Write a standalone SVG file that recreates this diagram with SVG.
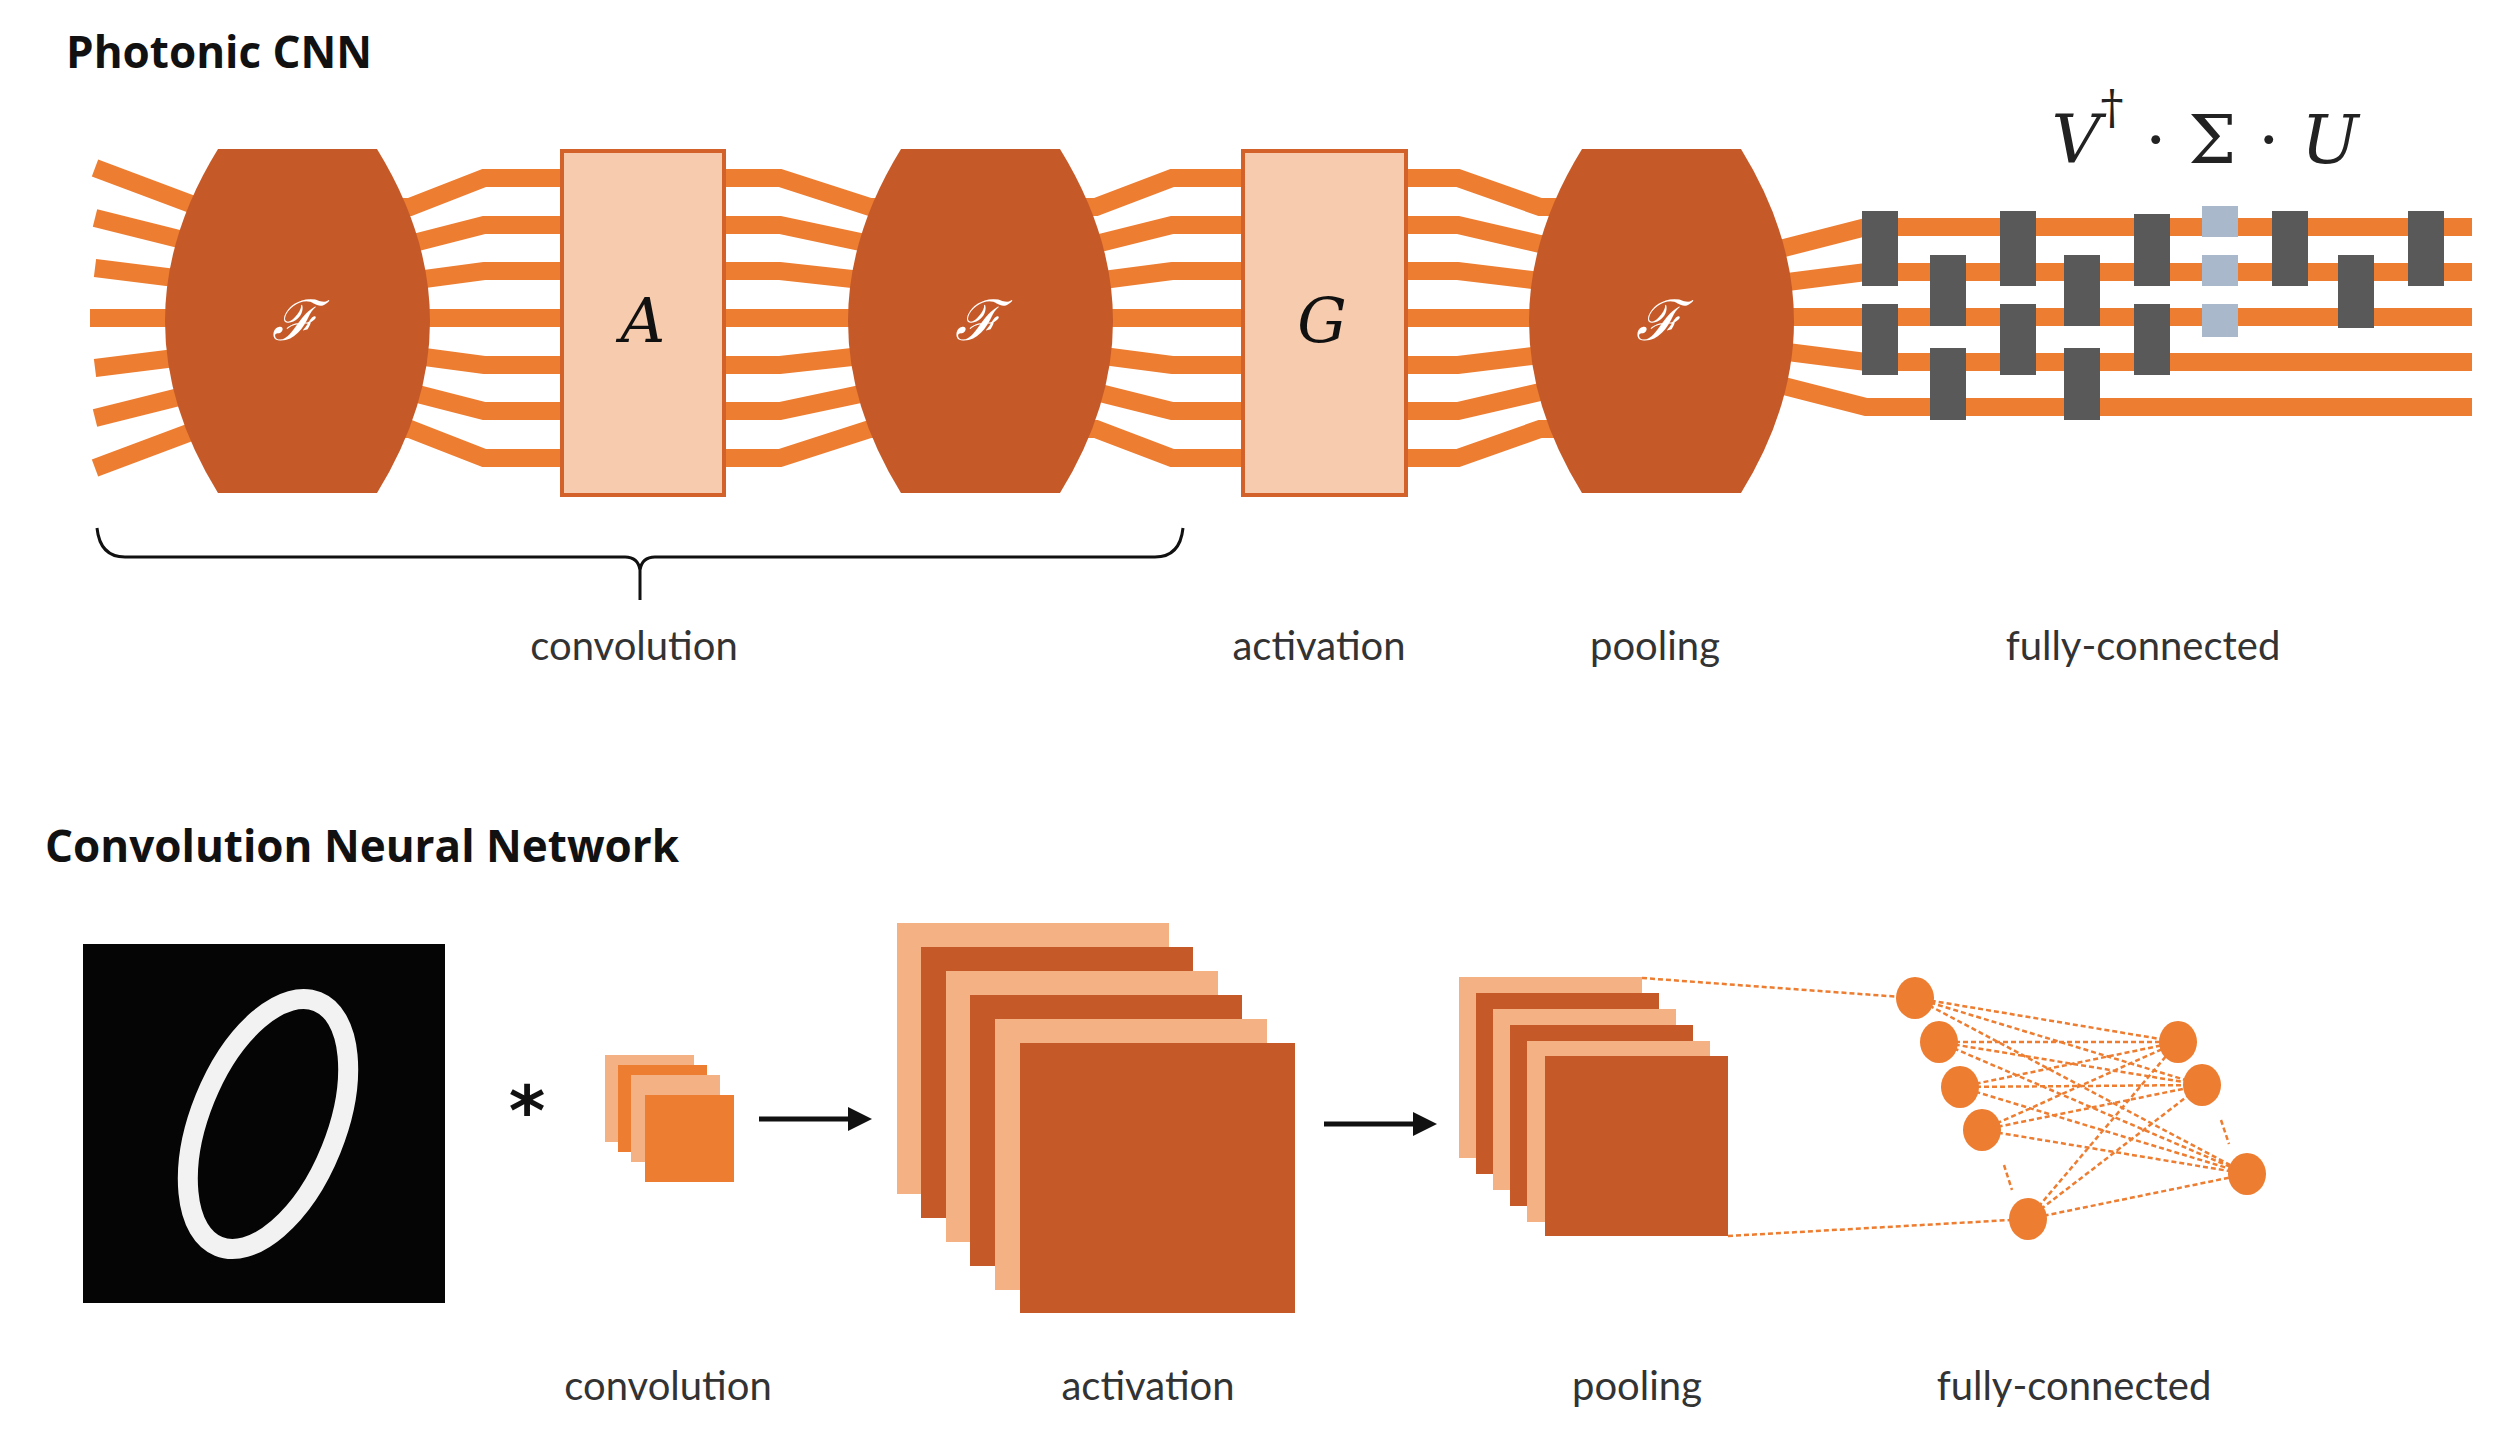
<svg xmlns="http://www.w3.org/2000/svg" width="2504" height="1451" viewBox="0 0 2504 1451">
<style>
.title{font-family:"Open Sans","Liberation Sans",sans-serif;font-weight:bold;font-size:44px;fill:#111}
.lbl{font-family:Lato,"Liberation Sans",sans-serif;font-size:40px;fill:#333;text-anchor:middle}
.wg{fill:none;stroke:#ed7d31;stroke-width:18}
.lens{fill:#c55a28}
.box{fill:#f7cbae;stroke:#d2622a;stroke-width:4}
.math{font-family:"DejaVu Serif","Liberation Serif",serif;font-style:italic;text-anchor:middle}
.mzi{fill:#595959}
.sv{fill:#aab8cc}
.lt{fill:#f4b183}
.dk{fill:#c55a28}
.md{fill:#ed7d31}
.fc{stroke:#ed7d31;stroke-width:2.5;stroke-dasharray:5 3;fill:none}
</style>
<defs>
<path id="lensShape" d="M-77,-172 L82,-172 Q188,0 82,172 L-77,172 Q-183,0 -77,-172 Z"/>
</defs>
<text class="title" x="66" y="68">Photonic CNN</text>
<g id="connectors">
<g id="waveguides">
<polyline class="wg" points="95,168 295,243"/>
<polyline class="wg" points="95,218 295,268"/>
<polyline class="wg" points="95,268 295,293"/>
<polyline class="wg" points="90,318 295,318"/>
<polyline class="wg" points="95,368 295,343"/>
<polyline class="wg" points="95,418 295,368"/>
<polyline class="wg" points="95,468 295,393"/>
<polyline class="wg" points="330,207 410,207 484,178 565,178"/>
<polyline class="wg" points="330,244 410,244 484,225 565,225"/>
<polyline class="wg" points="330,281 410,281 484,271 565,271"/>
<polyline class="wg" points="330,318 565,318"/>
<polyline class="wg" points="330,355 410,355 484,365 565,365"/>
<polyline class="wg" points="330,392 410,392 484,411 565,411"/>
<polyline class="wg" points="330,429 410,429 484,458 565,458"/>
<polyline class="wg" points="720,178 780,178 870,207 940,207"/>
<polyline class="wg" points="720,225 780,225 870,244 940,244"/>
<polyline class="wg" points="720,271 780,271 870,281 940,281"/>
<polyline class="wg" points="720,318 940,318"/>
<polyline class="wg" points="720,365 780,365 870,355 940,355"/>
<polyline class="wg" points="720,411 780,411 870,392 940,392"/>
<polyline class="wg" points="720,458 780,458 870,429 940,429"/>
<polyline class="wg" points="1020,207 1096,207 1172,178 1245,178"/>
<polyline class="wg" points="1020,244 1096,244 1172,225 1245,225"/>
<polyline class="wg" points="1020,281 1096,281 1172,271 1245,271"/>
<polyline class="wg" points="1020,318 1245,318"/>
<polyline class="wg" points="1020,355 1096,355 1172,365 1245,365"/>
<polyline class="wg" points="1020,392 1096,392 1172,411 1245,411"/>
<polyline class="wg" points="1020,429 1096,429 1172,458 1245,458"/>
<polyline class="wg" points="1405,178 1458,178 1540,207 1600,207"/>
<polyline class="wg" points="1405,225 1458,225 1540,244 1600,244"/>
<polyline class="wg" points="1405,271 1458,271 1540,281 1600,281"/>
<polyline class="wg" points="1405,318 1600,318"/>
<polyline class="wg" points="1405,365 1458,365 1540,355 1600,355"/>
<polyline class="wg" points="1405,411 1458,411 1540,392 1600,392"/>
<polyline class="wg" points="1405,458 1458,458 1540,429 1600,429"/>
<polyline class="wg" points="1700,249 1780,249 1866,227 2472,227"/>
<polyline class="wg" points="1700,283 1780,283 1866,272 2472,272"/>
<polyline class="wg" points="1700,317 2472,317"/>
<polyline class="wg" points="1700,351 1780,351 1866,362 2472,362"/>
<polyline class="wg" points="1700,385 1780,385 1866,407 2472,407"/>
</g>
<g id="fc-links">
<line class="fc" x1="1642" y1="978" x2="1915" y2="998"/>
<line class="fc" x1="1728" y1="1236" x2="2028" y2="1219"/>
<path class="fc" d="M1915,998 L2178,1042 M1915,998 L2202,1085 M1915,998 L2247,1174 M1939,1042 L2178,1042 M1939,1042 L2202,1085 M1939,1042 L2247,1174 M1960,1087 L2178,1042 M1960,1087 L2202,1085 M1960,1087 L2247,1174 M1982,1130 L2178,1042 M1982,1130 L2202,1085 M1982,1130 L2247,1174 M2028,1219 L2178,1042 M2028,1219 L2202,1085 M2028,1219 L2247,1174"/>
<path class="fc" d="M2004,1165 L2012,1190 M2221,1120 L2229,1144"/>
</g>
<g id="arrows" stroke="#111" stroke-width="5" fill="#111">
<line x1="759" y1="1119" x2="850" y2="1119"/>
<polygon points="848,1107 872,1119 848,1131" stroke="none"/>
<line x1="1324" y1="1124" x2="1415" y2="1124"/>
<polygon points="1413,1112 1437,1124 1413,1136" stroke="none"/>
</g>
</g>
<g id="lens1"><use href="#lensShape" class="lens" transform="translate(295,321)"/><text class="math" x="295" y="340" font-size="56" fill="#fff">ℱ</text></g>
<g id="boxA"><rect class="box" x="562" y="151" width="162" height="344"/><text class="math" x="643" y="342" font-size="62" fill="#111">A</text></g>
<g id="lens2"><use href="#lensShape" class="lens" transform="translate(978,321)"/><text class="math" x="978" y="340" font-size="56" fill="#fff">ℱ</text></g>
<g id="boxG"><rect class="box" x="1243" y="151" width="163" height="344"/><text class="math" x="1322" y="342" font-size="62" fill="#111">G</text></g>
<g id="lens3"><use href="#lensShape" class="lens" transform="translate(1659,321)"/><text class="math" x="1659" y="340" font-size="56" fill="#fff">ℱ</text></g>
<g id="mesh">
<rect class="mzi" x="1862" y="211" width="36" height="75"/><rect class="mzi" x="1862" y="304" width="36" height="71"/>
<rect class="mzi" x="1930" y="255" width="36" height="71"/><rect class="mzi" x="1930" y="348" width="36" height="72"/>
<rect class="mzi" x="2000" y="211" width="36" height="75"/><rect class="mzi" x="2000" y="304" width="36" height="71"/>
<rect class="mzi" x="2064" y="255" width="36" height="71"/><rect class="mzi" x="2064" y="348" width="36" height="72"/>
<rect class="mzi" x="2134" y="214" width="36" height="72"/><rect class="mzi" x="2134" y="304" width="36" height="71"/>
<rect class="sv" x="2202" y="206" width="36" height="31"/><rect class="sv" x="2202" y="255" width="36" height="31"/><rect class="sv" x="2202" y="304" width="36" height="33"/>
<rect class="mzi" x="2272" y="211" width="36" height="75"/>
<rect class="mzi" x="2338" y="255" width="36" height="73"/>
<rect class="mzi" x="2408" y="211" width="36" height="75"/>
<text x="2205" y="163" font-family="DejaVu Serif,Liberation Serif,serif" font-size="68" fill="#222" text-anchor="middle"><tspan font-style="italic">V</tspan><tspan dy="-40" font-size="46">†</tspan><tspan dy="40"> · Σ · </tspan><tspan font-style="italic">U</tspan></text>
</g>
<path d="M97,528 Q100,557 125,557 L625,557 Q638,557 640,570 L640,600 M640,570 Q642,557 655,557 L1155,557 Q1180,557 1183,528" fill="none" stroke="#111" stroke-width="3"/>
<text class="lbl" x="634" y="660">convolution</text>
<text class="lbl" x="1319" y="660">activation</text>
<text class="lbl" x="1655" y="660">pooling</text>
<text class="lbl" x="2143" y="660">fully-connected</text>

<text class="title" x="45" y="862">Convolution Neural Network</text>
<g id="mnist"><rect x="83" y="944" width="362" height="359" fill="#050505"/><ellipse cx="268" cy="1124" rx="68" ry="132" transform="rotate(22 268 1124)" fill="none" stroke="#f2f2f2" stroke-width="20"/></g>
<text x="527" y="1135" font-family="DejaVu Sans,sans-serif" font-size="70" font-weight="bold" fill="#111" text-anchor="middle">*</text>
<g id="kernel">
<rect class="lt" x="605" y="1055" width="89" height="87"/>
<rect class="md" x="618" y="1065" width="89" height="87"/>
<rect class="lt" x="631" y="1075" width="89" height="87"/>
<rect class="md" x="645" y="1095" width="89" height="87"/>
</g>
<g id="activation">
<rect class="lt" x="897" y="923" width="272" height="271"/>
<rect class="dk" x="921" y="947" width="272" height="271"/>
<rect class="lt" x="946" y="971" width="272" height="271"/>
<rect class="dk" x="970" y="995" width="272" height="271"/>
<rect class="lt" x="995" y="1019" width="272" height="271"/>
<rect class="dk" x="1020" y="1043" width="275" height="270"/>
</g>
<g id="pooling">
<rect class="lt" x="1459" y="977" width="183" height="181"/>
<rect class="dk" x="1476" y="993" width="183" height="181"/>
<rect class="lt" x="1493" y="1009" width="183" height="181"/>
<rect class="dk" x="1510" y="1025" width="183" height="181"/>
<rect class="lt" x="1527" y="1041" width="183" height="181"/>
<rect class="dk" x="1545" y="1056" width="183" height="180"/>
</g>
<g id="fc-nodes" fill="#ed7d31">
<ellipse cx="1915" cy="998" rx="19" ry="21"/><ellipse cx="1939" cy="1042" rx="19" ry="21"/><ellipse cx="1960" cy="1087" rx="19" ry="21"/><ellipse cx="1982" cy="1130" rx="19" ry="21"/><ellipse cx="2028" cy="1219" rx="19" ry="21"/>
<ellipse cx="2178" cy="1042" rx="19" ry="21"/><ellipse cx="2202" cy="1085" rx="19" ry="21"/><ellipse cx="2247" cy="1174" rx="19" ry="21"/>
</g>
<text class="lbl" x="668" y="1400">convolution</text>
<text class="lbl" x="1148" y="1400">activation</text>
<text class="lbl" x="1637" y="1400">pooling</text>
<text class="lbl" x="2074" y="1400">fully-connected</text>
</svg>
